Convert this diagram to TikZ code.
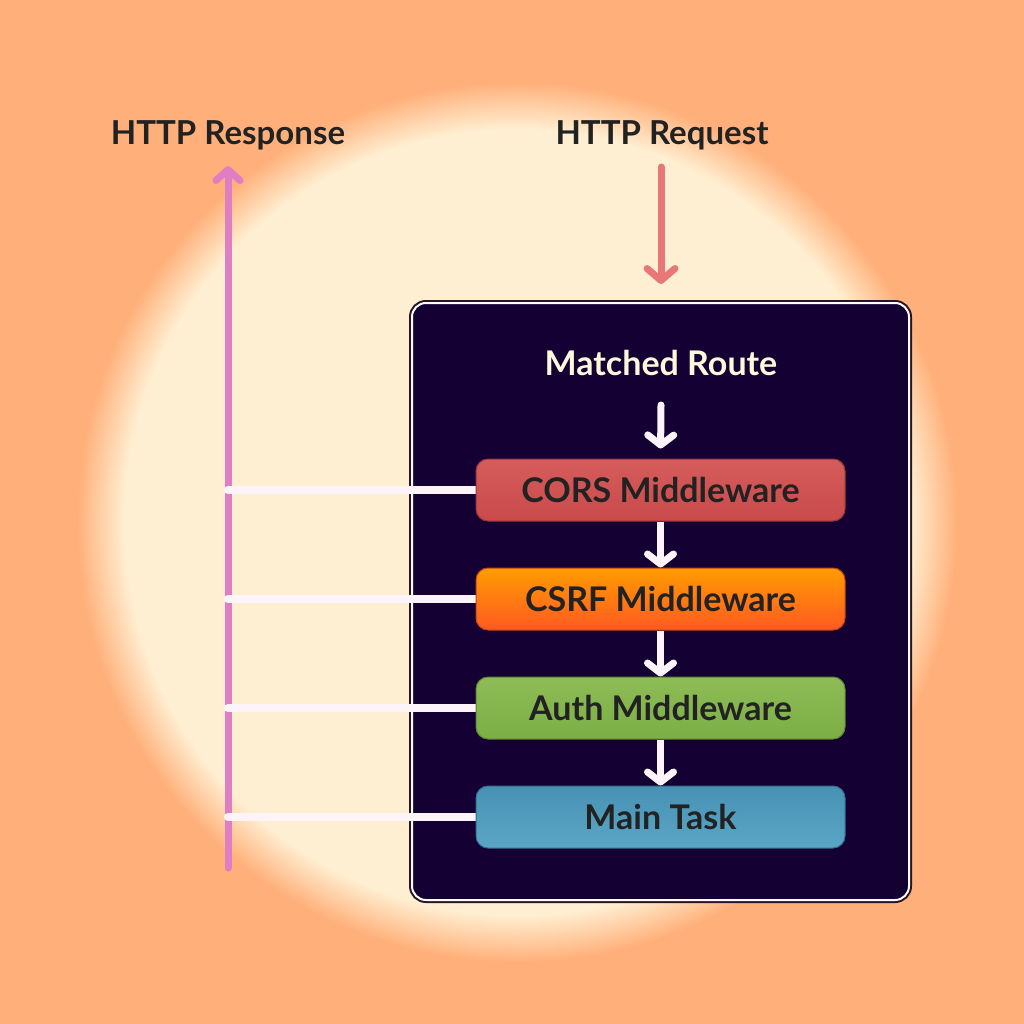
\documentclass[tikz,border=0pt]{standalone}
\usepackage{fontspec}
\setmainfont{Lato}
\usetikzlibrary{arrows.meta}
\definecolor{bgorange}{HTML}{FFB07A}
\definecolor{cream}{HTML}{FFEFD2}
\definecolor{darkbg}{HTML}{140032}
\definecolor{framedark}{HTML}{2A1424}
\definecolor{txtdark}{HTML}{222222}
\definecolor{routetxt}{HTML}{FFF8DC}
\definecolor{pinkc}{HTML}{E07EC4}
\definecolor{redc}{HTML}{E87878}
\definecolor{linkc}{HTML}{FCF4F8}
\definecolor{corstop}{HTML}{D65C5C}
\definecolor{corsbot}{HTML}{C94A4A}
\definecolor{csrftop}{HTML}{FF9C00}
\definecolor{csrfbot}{HTML}{FF5A22}
\definecolor{authtop}{HTML}{8EBC56}
\definecolor{authbot}{HTML}{7CAE46}
\definecolor{maintop}{HTML}{4792B4}
\definecolor{mainbot}{HTML}{5BA6C6}
\pgfdeclareradialshading{glow}{\pgfpoint{0bp}{0bp}}{color(0bp)=(cream); color(22.3bp)=(cream); color(25bp)=(bgorange); color(50bp)=(bgorange)}
\pgfdeclarelayer{back}
\pgfdeclarelayer{mid}
\pgfsetlayers{back,mid,main}
\begin{document}
\begin{tikzpicture}[x=1pt,y=-1pt,
  toplbl/.style={font=\fontsize{33}{38}\selectfont\bfseries, text=txtdark},
  routelbl/.style={font=\fontsize{34}{40}\selectfont\bfseries, text=routetxt},
  frame/.style={fill=darkbg, draw=white, line width=2pt, rounded corners=14pt,
    minimum width=497pt, minimum height=597pt, inner sep=0pt,
    preaction={draw=framedark, line width=6pt}},
  mw/.style={rounded corners=12pt, minimum width=369pt, minimum height=62pt, inner sep=0pt,
    font=\fontsize{34}{40}\selectfont\bfseries, text=txtdark, line width=1pt},
  resparrow/.style={draw=pinkc, line width=7pt, line cap=round,
    -{Straight Barb[length=11pt, width=24pt, round]}},
  reqarrow/.style={draw=redc, line width=7pt, line cap=round,
    -{Straight Barb[length=12pt, width=28pt, round]}},
  flow/.style={draw=linkc, line width=7pt,
    -{Straight Barb[length=10pt, width=26pt, round]}},
  link/.style={draw=linkc, line width=8pt, line cap=round}]
\useasboundingbox (0,0) rectangle (1024,1024);
\begin{pgfonlayer}{back}
  \fill[bgorange] (0,0) rectangle (1024,1024);
  \shade[shading=glow] (517,522) circle[radius=440pt];
  \node[frame] (frame) at (660.5,601.5) {};
\end{pgfonlayer}

\node[toplbl] (resp) at (228,135) {HTTP Response};
\node[toplbl] (req) at (662,135) {HTTP Request};
\node[routelbl] (route) at (661,363) {Matched Route};

\node[mw, draw=corsbot!75!black, top color=corstop, bottom color=corsbot] (cors) at (660.5,490) {CORS Middleware};
\node[mw, draw=csrfbot!75!black, top color=csrftop, bottom color=csrfbot] (csrf) at (660.5,599) {CSRF Middleware};
\node[mw, draw=authbot!75!black, top color=authtop, bottom color=authbot] (auth) at (660.5,708) {Auth Middleware};
\node[mw, draw=maintop!75!black, top color=maintop, bottom color=mainbot] (main) at (660.5,817) {Main Task};

\coordinate (respbot) at (228,868);
\coordinate (resptop) at (228,166);
\coordinate (reqstart) at (661,167);
\coordinate (reqend) at (661,284);
\coordinate (routearr) at (661,405);

\begin{pgfonlayer}{mid}
  \draw[resparrow] (respbot) -- (resptop);
  \draw[link] (cors.west) -- (cors.west -| respbot);
  \draw[link] (csrf.west) -- (csrf.west -| respbot);
  \draw[link] (auth.west) -- (auth.west -| respbot);
  \draw[link] (main.west) -- (main.west -| respbot);
  \draw[flow] (cors.south) -- (csrf.north);
  \draw[flow] (csrf.south) -- (auth.north);
  \draw[flow] (auth.south) -- (main.north);
\end{pgfonlayer}
\draw[reqarrow] (reqstart) -- (reqend);
\draw[flow, line cap=round, shorten >=10pt] (routearr) -- (cors.north);
\end{tikzpicture}
\end{document}
